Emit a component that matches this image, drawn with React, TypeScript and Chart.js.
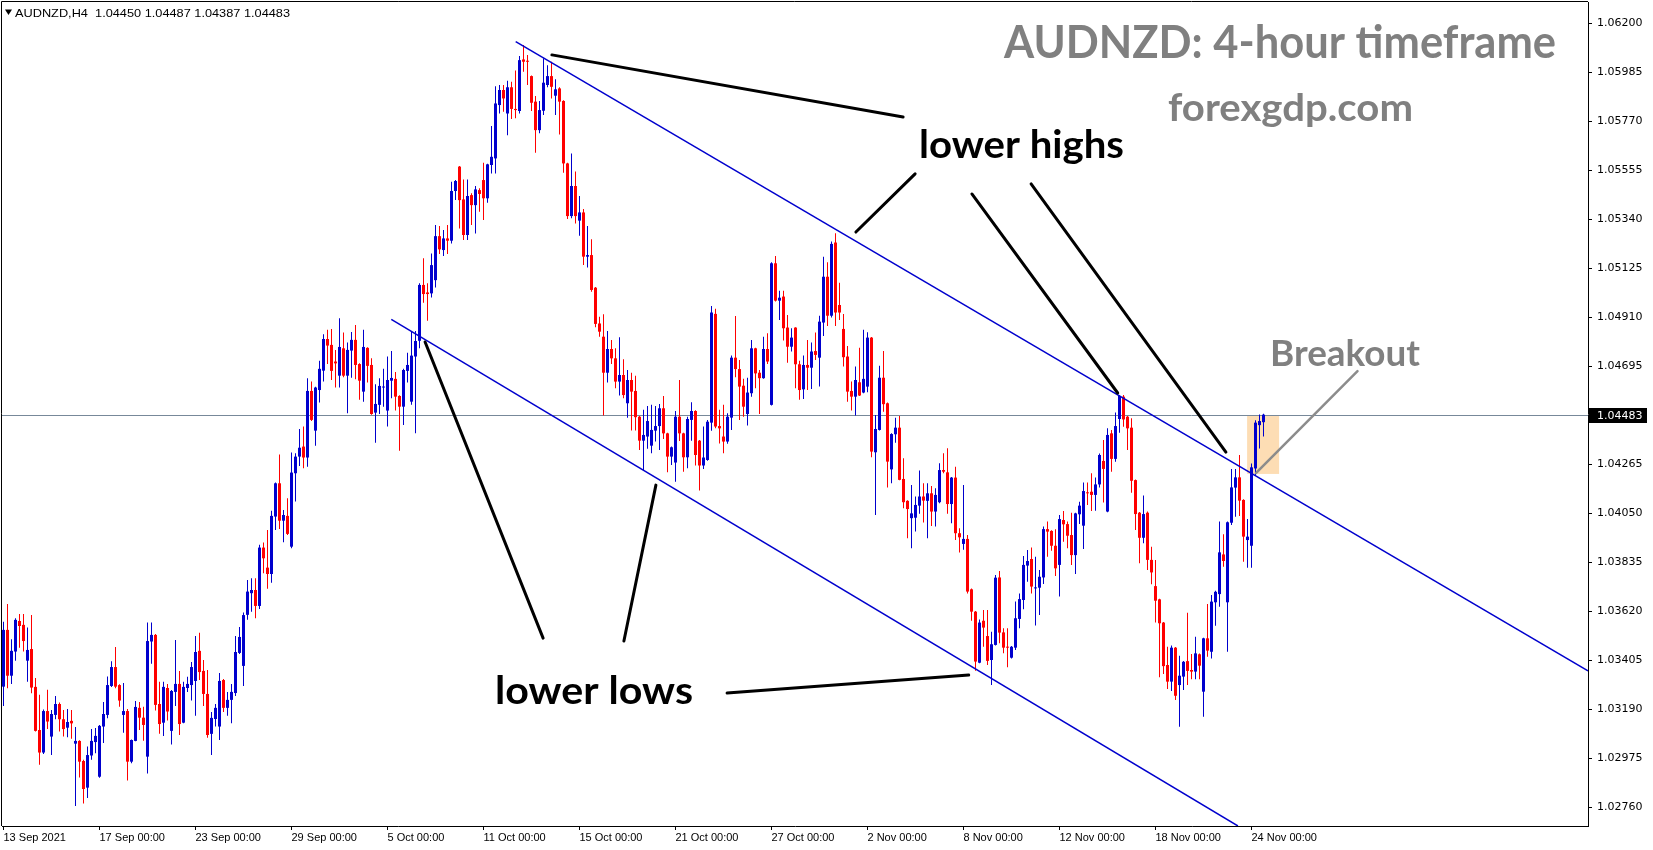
import React, { useEffect, useRef } from 'react';
import { Chart, registerables } from 'chart.js';

Chart.register(...registerables);

// ---------- DATA (AUDNZD H4 candles, 13 Sep 2021 -> 24 Nov 2021) ----------
const symbolName = 'AUDNZD,H4';

const openP = [
  1.03290,1.03539,1.03338,1.03444,1.03578,1.03561,1.03404,1.03455,1.03289,1.03100,
  1.03001,1.03183,1.03071,1.03166,1.03214,1.03147,1.03110,1.03140,1.03040,1.03052,
  1.02964,1.02847,1.02988,1.03047,1.02895,1.03115,1.03166,1.03293,1.03376,1.03297,
  1.03166,1.03183,1.02961,1.03052,1.03197,1.03154,1.02983,1.03488,1.03517,1.03214,
  1.03132,1.03284,1.03096,1.03267,1.03302,1.03132,1.03284,1.03297,1.03315,1.03447,
  1.03359,1.03258,1.03083,1.03148,1.03115,1.03319,1.03197,1.03232,1.03262,1.03438,
  1.03381,1.03605,1.03700,1.03714,1.03644,1.03900,1.03812,1.03784,1.04036,1.04182,
  1.04018,1.04039,1.03904,1.04226,1.04299,1.04343,1.04295,1.04587,1.04413,1.04591,
  1.04676,1.04815,1.04789,1.04716,1.04654,1.04774,1.04654,1.04764,1.04811,1.04705,
  1.04584,1.04776,1.04701,1.04492,1.04526,1.04602,1.04501,1.04632,1.04640,1.04565,
  1.04518,1.04675,1.04540,1.04738,1.04807,1.05052,1.05019,1.05015,1.05073,1.05266,
  1.05205,1.05256,1.05246,1.05464,1.05571,1.05427,1.05271,1.05446,1.05402,1.05468,
  1.05512,1.05432,1.05578,1.05607,1.05841,1.05907,1.05804,1.05919,1.05824,1.05815,
  1.06041,1.06034,1.05968,1.05856,1.05731,1.05816,1.05929,1.05968,1.05882,1.05914,
  1.05859,1.05585,1.05354,1.05486,1.05334,1.05370,1.05176,1.05183,1.05040,1.04883,
  1.04825,1.04667,1.04771,1.04730,1.04628,1.04657,1.04533,1.04635,1.04587,1.04474,
  1.04369,1.04387,1.04347,1.04413,1.04433,1.04511,1.04401,1.04299,1.04273,1.04474,
  1.04401,1.04296,1.04460,1.04499,1.04369,1.04260,1.04284,1.04448,1.04925,1.04433,
  1.04387,1.04365,1.04470,1.04733,1.04683,1.04610,1.04486,1.04577,1.04774,1.04667,
  1.04643,1.04771,1.04526,1.05147,1.04983,1.05001,1.04865,1.04781,1.04865,1.04704,
  1.04594,1.04701,1.04689,1.04762,1.04733,1.04887,1.05088,1.04917,1.05238,1.04964,
  1.04859,1.04738,1.04587,1.04562,1.04625,1.04580,1.04606,1.04821,1.04318,1.04416,
  1.04645,1.04533,1.04243,1.04397,1.04426,1.04201,1.04105,1.04029,1.04031,1.04084,
  1.04124,1.04105,1.04138,1.04058,1.04099,1.04240,1.04230,1.04091,1.04207,1.03963,
  1.03916,1.03938,1.03717,1.03619,1.03395,1.03579,1.03512,1.03407,1.03473,1.03769,
  1.03528,1.03465,1.03417,1.03461,1.03587,1.03670,1.03821,1.03850,1.03721,1.03724,
  1.03769,1.03981,1.03973,1.03908,1.03824,1.04021,1.04003,1.03955,1.03867,1.04046,
  1.03996,1.04142,1.04145,1.04131,1.04177,1.04280,1.04058,1.04401,1.04289,1.04464,
  1.04562,1.04474,1.04426,1.04196,1.04053,1.03943,1.04053,1.03846,1.03731,1.03673,
  1.03571,1.03385,1.03312,1.03461,1.03297,1.03334,1.03402,1.03363,1.03356,1.03432,
  1.03268,1.03502,1.03443,1.03660,1.03696,1.03870,1.03660,1.04009,1.04163,1.04208,
  1.04109,1.03933,1.03908,1.04247,1.04437,1.04450,
];

const highP = [
  1.03575,1.03653,1.03498,1.03590,1.03609,1.03609,1.03549,1.03604,1.03328,1.03254,
  1.03190,1.03276,1.03188,1.03249,1.03220,1.03188,1.03192,1.03188,1.03113,1.03055,
  1.02969,1.03027,1.03104,1.03109,1.03122,1.03223,1.03334,1.03401,1.03464,1.03300,
  1.03306,1.03192,1.03058,1.03227,1.03223,1.03202,1.03571,1.03571,1.03521,1.03312,
  1.03311,1.03302,1.03275,1.03495,1.03359,1.03311,1.03333,1.03398,1.03512,1.03526,
  1.03407,1.03363,1.03179,1.03214,1.03350,1.03324,1.03267,1.03302,1.03512,1.03552,
  1.03615,1.03758,1.03765,1.03765,1.03912,1.03922,1.03977,1.04062,1.04185,1.04308,
  1.04065,1.04116,1.04317,1.04314,1.04420,1.04431,1.04643,1.04628,1.04605,1.04720,
  1.04836,1.04855,1.04859,1.04767,1.04906,1.04843,1.04799,1.04846,1.04876,1.04708,
  1.04855,1.04779,1.04730,1.04616,1.04643,1.04684,1.04738,1.04762,1.04670,1.04568,
  1.04684,1.04755,1.04847,1.04850,1.05059,1.05169,1.05059,1.05190,1.05315,1.05310,
  1.05293,1.05315,1.05505,1.05512,1.05574,1.05515,1.05515,1.05454,1.05486,1.05476,
  1.05588,1.05584,1.05749,1.05924,1.05929,1.05929,1.05948,1.05943,1.05992,1.06056,
  1.06104,1.06060,1.05971,1.05881,1.05859,1.06046,1.06016,1.06031,1.05954,1.05919,
  1.05862,1.05588,1.05629,1.05549,1.05442,1.05385,1.05310,1.05252,1.05043,1.04913,
  1.04923,1.04850,1.04811,1.04774,1.04822,1.04726,1.04679,1.04667,1.04654,1.04477,
  1.04504,1.04521,1.04526,1.04521,1.04530,1.04565,1.04404,1.04343,1.04499,1.04635,
  1.04404,1.04474,1.04537,1.04502,1.04372,1.04431,1.04460,1.04960,1.04947,1.04504,
  1.04526,1.04489,1.04742,1.04916,1.04723,1.04640,1.04645,1.04811,1.04777,1.04679,
  1.04825,1.04840,1.05151,1.05179,1.05026,1.05026,1.04920,1.04862,1.04866,1.04720,
  1.04742,1.04811,1.04799,1.04843,1.04917,1.05176,1.05151,1.05242,1.05279,1.05062,
  1.04925,1.04784,1.04628,1.04694,1.04777,1.04855,1.04844,1.04824,1.04482,1.04697,
  1.04762,1.04536,1.04401,1.04470,1.04477,1.04292,1.04108,1.04175,1.04124,1.04238,
  1.04182,1.04182,1.04170,1.04160,1.04270,1.04314,1.04336,1.04210,1.04255,1.03985,
  1.04175,1.03955,1.03720,1.03622,1.03585,1.03626,1.03626,1.03531,1.03780,1.03797,
  1.03546,1.03546,1.03468,1.03663,1.03699,1.03863,1.03889,1.03900,1.03860,1.03802,
  1.03992,1.04014,1.03976,1.03980,1.04043,1.04060,1.04014,1.04053,1.04053,1.04101,
  1.04185,1.04185,1.04226,1.04207,1.04313,1.04372,1.04423,1.04416,1.04493,1.04569,
  1.04569,1.04477,1.04467,1.04199,1.04056,1.04128,1.04058,1.03904,1.03845,1.03676,
  1.03574,1.03465,1.03470,1.03464,1.03426,1.03402,1.03614,1.03433,1.03509,1.03435,
  1.03505,1.03652,1.03692,1.03711,1.04014,1.03958,1.04014,1.04245,1.04245,1.04306,
  1.04112,1.04025,1.04269,1.04459,1.04484,1.04487,
];

const lowP = [
  1.03205,1.03283,1.03302,1.03404,1.03461,1.03444,1.03312,1.03261,1.03093,1.02947,
  1.02995,1.03104,1.02990,1.03147,1.03093,1.03071,1.03068,1.03061,1.02767,1.02891,
  1.02777,1.02802,1.02969,1.02998,1.02890,1.03043,1.03151,1.03288,1.03283,1.03202,
  1.03088,1.02878,1.02954,1.03050,1.03100,1.03053,1.02909,1.03391,1.03185,1.03083,
  1.03074,1.03141,1.03036,1.03205,1.03078,1.03129,1.03267,1.03229,1.03162,1.03319,
  1.03205,1.03066,1.02990,1.03115,1.03056,1.03179,1.03162,1.03129,1.03249,1.03433,
  1.03293,1.03583,1.03619,1.03590,1.03631,1.03787,1.03719,1.03746,1.03977,1.03982,
  1.03923,1.03955,1.03897,1.04102,1.04258,1.04248,1.04255,1.04455,1.04347,1.04536,
  1.04628,1.04705,1.04635,1.04602,1.04602,1.04647,1.04489,1.04645,1.04638,1.04548,
  1.04540,1.04624,1.04483,1.04360,1.04486,1.04518,1.04431,1.04555,1.04501,1.04325,
  1.04438,1.04624,1.04526,1.04401,1.04774,1.04974,1.04895,1.04997,1.05041,1.05188,
  1.05179,1.05188,1.05234,1.05424,1.05300,1.05249,1.05249,1.05315,1.05278,1.05373,
  1.05337,1.05413,1.05541,1.05541,1.05804,1.05812,1.05709,1.05780,1.05783,1.05804,
  1.05987,1.05929,1.05815,1.05632,1.05717,1.05797,1.05919,1.05870,1.05797,1.05712,
  1.05544,1.05341,1.05344,1.05322,1.05268,1.05139,1.05129,1.05022,1.04866,1.04825,
  1.04479,1.04624,1.04705,1.04599,1.04567,1.04555,1.04470,1.04413,1.04413,1.04328,
  1.04240,1.04333,1.04314,1.04365,1.04328,1.04376,1.04230,1.04262,1.04189,1.04368,
  1.04233,1.04248,1.04369,1.04260,1.04150,1.04245,1.04281,1.04412,1.04423,1.04357,
  1.04314,1.04355,1.04416,1.04647,1.04460,1.04474,1.04435,1.04562,1.04599,1.04486,
  1.04640,1.04705,1.04523,1.04979,1.04898,1.04808,1.04711,1.04760,1.04599,1.04548,
  1.04552,1.04591,1.04596,1.04723,1.04606,1.04828,1.04872,1.04909,1.04872,1.04898,
  1.04694,1.04540,1.04501,1.04479,1.04565,1.04577,1.04581,1.04296,1.04043,1.04413,
  1.04496,1.04164,1.04182,1.04360,1.04195,1.04072,1.03941,1.03897,1.03970,1.04048,
  1.04010,1.03941,1.03995,1.03992,1.04094,1.04226,1.04048,1.04007,1.03933,1.03878,
  1.03890,1.03699,1.03579,1.03360,1.03393,1.03465,1.03385,1.03297,1.03470,1.03480,
  1.03436,1.03375,1.03414,1.03451,1.03546,1.03629,1.03750,1.03699,1.03558,1.03604,
  1.03740,1.03860,1.03886,1.03775,1.03685,1.03926,1.03897,1.03824,1.03784,1.04003,
  1.03894,1.04087,1.04060,1.04062,1.04163,1.04098,1.04055,1.04233,1.04277,1.04404,
  1.04430,1.04328,1.04141,1.03977,1.03831,1.03919,1.03802,1.03739,1.03571,1.03331,
  1.03345,1.03280,1.03271,1.03231,1.03114,1.03275,1.03297,1.03323,1.03323,1.03323,
  1.03158,1.03421,1.03414,1.03557,1.03641,1.03816,1.03443,1.03999,1.04035,1.04038,
  1.03838,1.03812,1.03812,1.04214,1.04335,1.04387,
];

const closeP = [
  1.03539,1.03338,1.03447,1.03583,1.03556,1.03490,1.03451,1.03286,1.03096,1.03001,
  1.03183,1.03137,1.03170,1.03214,1.03147,1.03104,1.03135,1.03129,1.03052,1.02961,
  1.02841,1.02990,1.03052,1.03074,1.03118,1.03170,1.03297,1.03376,1.03290,1.03229,
  1.03183,1.02961,1.03056,1.03201,1.03154,1.03122,1.03490,1.03517,1.03210,1.03126,
  1.03289,1.03181,1.03271,1.03302,1.03126,1.03289,1.03302,1.03376,1.03442,1.03354,
  1.03258,1.03078,1.03153,1.03197,1.03315,1.03197,1.03232,1.03267,1.03442,1.03508,
  1.03604,1.03707,1.03714,1.03644,1.03900,1.03853,1.03784,1.04039,1.04182,1.04018,
  1.04043,1.03960,1.04229,1.04299,1.04338,1.04295,1.04587,1.04460,1.04602,1.04684,
  1.04815,1.04786,1.04675,1.04708,1.04780,1.04654,1.04767,1.04811,1.04701,1.04632,
  1.04780,1.04697,1.04486,1.04530,1.04609,1.04606,1.04635,1.04644,1.04562,1.04518,
  1.04679,1.04701,1.04742,1.04806,1.05052,1.05012,1.05012,1.05139,1.05266,1.05208,
  1.05256,1.05246,1.05464,1.05508,1.05424,1.05271,1.05442,1.05402,1.05471,1.05451,
  1.05432,1.05581,1.05614,1.05848,1.05907,1.05870,1.05919,1.05824,1.05819,1.06038,
  1.06031,1.06031,1.05851,1.05731,1.05819,1.05939,1.05968,1.05921,1.05910,1.05856,
  1.05585,1.05354,1.05486,1.05354,1.05370,1.05176,1.05183,1.05030,1.04881,1.04847,
  1.04667,1.04771,1.04730,1.04628,1.04657,1.04569,1.04635,1.04584,1.04472,1.04369,
  1.04394,1.04455,1.04416,1.04433,1.04511,1.04401,1.04299,1.04340,1.04474,1.04401,
  1.04296,1.04464,1.04499,1.04306,1.04260,1.04295,1.04452,1.04931,1.04431,1.04423,
  1.04365,1.04474,1.04733,1.04683,1.04606,1.04518,1.04580,1.04774,1.04664,1.04643,
  1.04771,1.04716,1.05147,1.04983,1.04996,1.04862,1.04781,1.04821,1.04704,1.04591,
  1.04701,1.04689,1.04760,1.04745,1.04891,1.05088,1.04917,1.05232,1.04931,1.04931,
  1.04735,1.04584,1.04562,1.04635,1.04567,1.04640,1.04821,1.04321,1.04420,1.04645,
  1.04529,1.04277,1.04398,1.04426,1.04197,1.04099,1.04069,1.04050,1.04087,1.04124,
  1.04106,1.04138,1.04058,1.04131,1.04240,1.04233,1.04091,1.04207,1.03963,1.03945,
  1.03938,1.03707,1.03619,1.03400,1.03571,1.03549,1.03403,1.03476,1.03768,1.03527,
  1.03461,1.03461,1.03465,1.03590,1.03674,1.03824,1.03841,1.03729,1.03724,1.03772,
  1.03981,1.03970,1.03908,1.03809,1.04025,1.04002,1.03952,1.03867,1.04050,1.04084,
  1.04148,1.04138,1.04131,1.04177,1.04306,1.04245,1.04394,1.04289,1.04433,1.04565,
  1.04462,1.04423,1.04193,1.04047,1.03943,1.04047,1.03846,1.03791,1.03667,1.03568,
  1.03380,1.03312,1.03461,1.03250,1.03338,1.03399,1.03359,1.03356,1.03436,1.03382,
  1.03502,1.03448,1.03663,1.03706,1.03879,1.03841,1.04011,1.04164,1.04208,1.04106,
  1.03948,1.03948,1.04252,1.04448,1.04455,1.04483,
];

const xTickIndex = [0, 24, 48, 72, 96, 120, 144, 168, 192, 216, 240, 264, 288, 312];
const xTickLabels = [
  '13 Sep 2021', '17 Sep 00:00', '23 Sep 00:00', '29 Sep 00:00', '5 Oct 00:00',
  '11 Oct 00:00', '15 Oct 00:00', '21 Oct 00:00', '27 Oct 00:00', '2 Nov 00:00',
  '8 Nov 00:00', '12 Nov 00:00', '18 Nov 00:00', '24 Nov 00:00',
];
const yTickValues = [
  1.062, 1.05985, 1.0577, 1.05555, 1.0534, 1.05125, 1.0491, 1.04695,
  1.04265, 1.0405, 1.03835, 1.0362, 1.03405, 1.0319, 1.02975, 1.0276,
];
const lastPrice = 1.04483;

// channel lines (bar index, price)
const upperChannelX = [128.05, 396.125];
const upperChannelY = [1.06119, 1.03359];
const lowerChannelX = [96.95, 308.6];
const lowerChannelY = [1.04901, 1.02679];

// annotation pointers [x1, y1, x2, y2] in (bar index, price)
const pointerSegments = [
  [137.1, 1.06061, 224.9, 1.05789],
  [227.9, 1.05539, 213.1, 1.05284],
  [242.1, 1.05451, 278.55, 1.04578],
  [256.9, 1.05495, 305.6, 1.04319],
  [105.4, 1.04802, 134.9, 1.03503],
  [163.1, 1.04174, 155.1, 1.0349],
  [180.9, 1.03262, 241.3, 1.03341],
];
const breakoutPointer = [313.1, 1.04227, 338.5, 1.04674];
const breakoutBoxX = [310.9, 318.9];
const breakoutBoxY = [1.04477, 1.04223];

const BLUE = '#0000CD';
const RED = '#FF0000';

function fitText(ctx: CanvasRenderingContext2D, text: string, left: number, baseline: number,
  width: number, size: number, weight: string, family: string, color: string) {
  ctx.save();
  ctx.font = `${weight} ${size}px ${family}`;
  ctx.fillStyle = color;
  ctx.textAlign = 'left';
  ctx.textBaseline = 'alphabetic';
  const w = ctx.measureText(text).width || 1;
  ctx.translate(left, baseline);
  ctx.scale(width / w, 1);
  ctx.fillText(text, 0, 0);
  ctx.restore();
}

export default function App() {
  const ref = useRef<HTMLCanvasElement>(null);

  useEffect(() => {
    document.body.style.margin = '0';
    const canvas = ref.current!;
    const idx = openP.map((_, i) => i);
    const up = (i: number) => closeP[i] >= openP[i];
    const colorFor = (c: any) => (up(c.dataIndex) ? BLUE : RED);

    const overlay = {
      id: 'mt4overlay',
      beforeDatasetsDraw(chart: any) {
        const { ctx, chartArea: a, scales } = chart;
        const x = scales.x, y = scales.y;
        ctx.save();
        ctx.beginPath();
        ctx.rect(a.left, a.top, a.right - a.left, a.bottom - a.top);
        ctx.clip();
        const x0 = x.getPixelForValue(breakoutBoxX[0]);
        const x1 = x.getPixelForValue(breakoutBoxX[1]);
        const y0 = y.getPixelForValue(breakoutBoxY[0]);
        const y1 = y.getPixelForValue(breakoutBoxY[1]);
        ctx.fillStyle = '#FDDDB4';
        ctx.fillRect(Math.min(x0, x1), Math.min(y0, y1), Math.abs(x1 - x0), Math.abs(y1 - y0));
        const by = Math.round(y.getPixelForValue(lastPrice)) + 0.5;
        ctx.strokeStyle = '#778899';
        ctx.lineWidth = 1;
        ctx.beginPath();
        ctx.moveTo(a.left, by);
        ctx.lineTo(a.right, by);
        ctx.stroke();
        ctx.restore();
      },
      afterDatasetsDraw(chart: any) {
        const { ctx, scales } = chart;
        const x = scales.x, y = scales.y;
        ctx.save();
        ctx.lineCap = 'round';
        ctx.strokeStyle = '#000000';
        ctx.lineWidth = 3;
        pointerSegments.forEach((s) => {
          ctx.beginPath();
          ctx.moveTo(x.getPixelForValue(s[0]), y.getPixelForValue(s[1]));
          ctx.lineTo(x.getPixelForValue(s[2]), y.getPixelForValue(s[3]));
          ctx.stroke();
        });
        ctx.strokeStyle = '#8C8C8C';
        ctx.lineWidth = 2.5;
        ctx.beginPath();
        ctx.moveTo(x.getPixelForValue(breakoutPointer[0]), y.getPixelForValue(breakoutPointer[1]));
        ctx.lineTo(x.getPixelForValue(breakoutPointer[2]), y.getPixelForValue(breakoutPointer[3]));
        ctx.stroke();
        ctx.restore();

        fitText(ctx, 'AUDNZD: 4-hour timeframe', 1004, 58, 552, 46, 'bold', 'Lato', '#808080');
        fitText(ctx, 'forexgdp.com', 1168, 121, 245, 38, 'bold', 'Lato', '#808080');
        fitText(ctx, 'lower highs', 919, 158, 205, 39, 'bold', 'Lato', '#000000');
        fitText(ctx, 'lower lows', 495, 704, 198, 39, 'bold', 'Lato', '#000000');
        fitText(ctx, 'Breakout', 1270, 366, 150, 37, 'bold', 'Lato', '#808080');
      },
      afterDraw(chart: any) {
        const { ctx, chartArea: a, scales } = chart;
        const y = scales.y;
        ctx.save();
        ctx.strokeStyle = '#000000';
        ctx.lineWidth = 1;
        ctx.beginPath();
        ctx.moveTo(a.left - 0.5, a.bottom);
        ctx.lineTo(a.left - 0.5, a.top - 0.5);
        ctx.lineTo(a.right, a.top - 0.5);
        ctx.stroke();
        // current price label
        const by = Math.round(y.getPixelForValue(lastPrice));
        ctx.fillStyle = '#000000';
        ctx.fillRect(a.right + 1, by - 7, 58, 15);
        ctx.fillStyle = '#FFFFFF';
        ctx.font = "11px 'DejaVu Sans'";
        ctx.textBaseline = 'middle';
        ctx.textAlign = 'left';
        ctx.fillText(lastPrice.toFixed(5), a.right + 9, by + 1);
        // header
        ctx.fillStyle = '#000000';
        ctx.beginPath();
        ctx.moveTo(5, 9.5);
        ctx.lineTo(12, 9.5);
        ctx.lineTo(8.5, 15);
        ctx.closePath();
        ctx.fill();
        ctx.restore();
        const n = openP.length - 1;
        const header = `${symbolName}  ${openP[n].toFixed(5)} ${highP[n].toFixed(5)} ${lowP[n].toFixed(5)} ${closeP[n].toFixed(5)}`;
        fitText(ctx, header, 15, 17, 275, 11, 'normal', "'Liberation Sans'", '#000000');
      },
    };

    const chart = new Chart(canvas, {
      type: 'bar',
      data: {
        datasets: [
          {
            type: 'line',
            data: upperChannelX.map((v, i) => ({ x: v, y: upperChannelY[i] })),
            borderColor: BLUE,
            borderWidth: 1.5,
            pointRadius: 0,
            order: 0,
          } as any,
          {
            type: 'line',
            data: lowerChannelX.map((v, i) => ({ x: v, y: lowerChannelY[i] })),
            borderColor: BLUE,
            borderWidth: 1.5,
            pointRadius: 0,
            order: 0,
          } as any,
          {
            type: 'bar',
            data: idx.map((i) => ({ x: i, y: [openP[i], closeP[i]] })),
            backgroundColor: colorFor,
            barThickness: 3,
            grouped: false,
            minBarLength: 1,
            borderWidth: 0,
            inflateAmount: 0,
            order: 1,
          } as any,
          {
            type: 'bar',
            data: idx.map((i) => ({ x: i, y: [lowP[i], highP[i]] })),
            backgroundColor: colorFor,
            barThickness: 1,
            grouped: false,
            minBarLength: 1,
            borderWidth: 0,
            inflateAmount: 0,
            order: 2,
          } as any,
        ],
      },
      options: {
        responsive: false,
        animation: false,
        devicePixelRatio: 1,
        events: [],
        layout: { padding: { left: 2, top: 2, right: 0, bottom: 0 } },
        plugins: { legend: { display: false }, tooltip: { enabled: false } },
        scales: {
          x: {
            type: 'linear',
            position: 'bottom',
            min: -0.375,
            max: 396.125,
            offset: false,
            bounds: 'data',
            afterBuildTicks: (s: any) => { s.ticks = xTickIndex.map((v) => ({ value: v })); },
            afterFit: (s: any) => { s.height = 24; s.paddingLeft = 0; s.paddingRight = 0; },
            grid: { drawOnChartArea: false, drawTicks: true, tickLength: 4, color: '#000000', offset: false },
            border: { display: true, color: '#000000', width: 1 },
            ticks: {
              autoSkip: false,
              maxRotation: 0,
              minRotation: 0,
              align: 'start',
              padding: 1,
              color: '#000000',
              font: { family: "'Liberation Sans'", size: 11 },
              callback: (v: any) => {
                const k = xTickIndex.indexOf(Number(v));
                return k >= 0 ? xTickLabels[k] : '';
              },
            },
          },
          y: {
            type: 'linear',
            position: 'right',
            min: 1.026788,
            max: 1.06293,
            bounds: 'data',
            afterBuildTicks: (s: any) => { s.ticks = yTickValues.map((v) => ({ value: v })); },
            afterFit: (s: any) => { s.width = 65; s.paddingTop = 0; s.paddingBottom = 0; },
            grid: { drawOnChartArea: false, drawTicks: true, tickLength: 4, color: '#000000' },
            border: { display: true, color: '#000000', width: 1 },
            ticks: {
              padding: 5,
              color: '#000000',
              font: { family: "'DejaVu Sans'", size: 11 },
              callback: (v: any) => Number(v).toFixed(5),
            },
          },
        },
      } as any,
      plugins: [overlay as any],
    });

    return () => chart.destroy();
  }, []);

  return (
    <div style={{ width: 1653, height: 850, background: '#FFFFFF' }}>
      <canvas ref={ref} width={1653} height={850} style={{ display: 'block' }} />
    </div>
  );
}
